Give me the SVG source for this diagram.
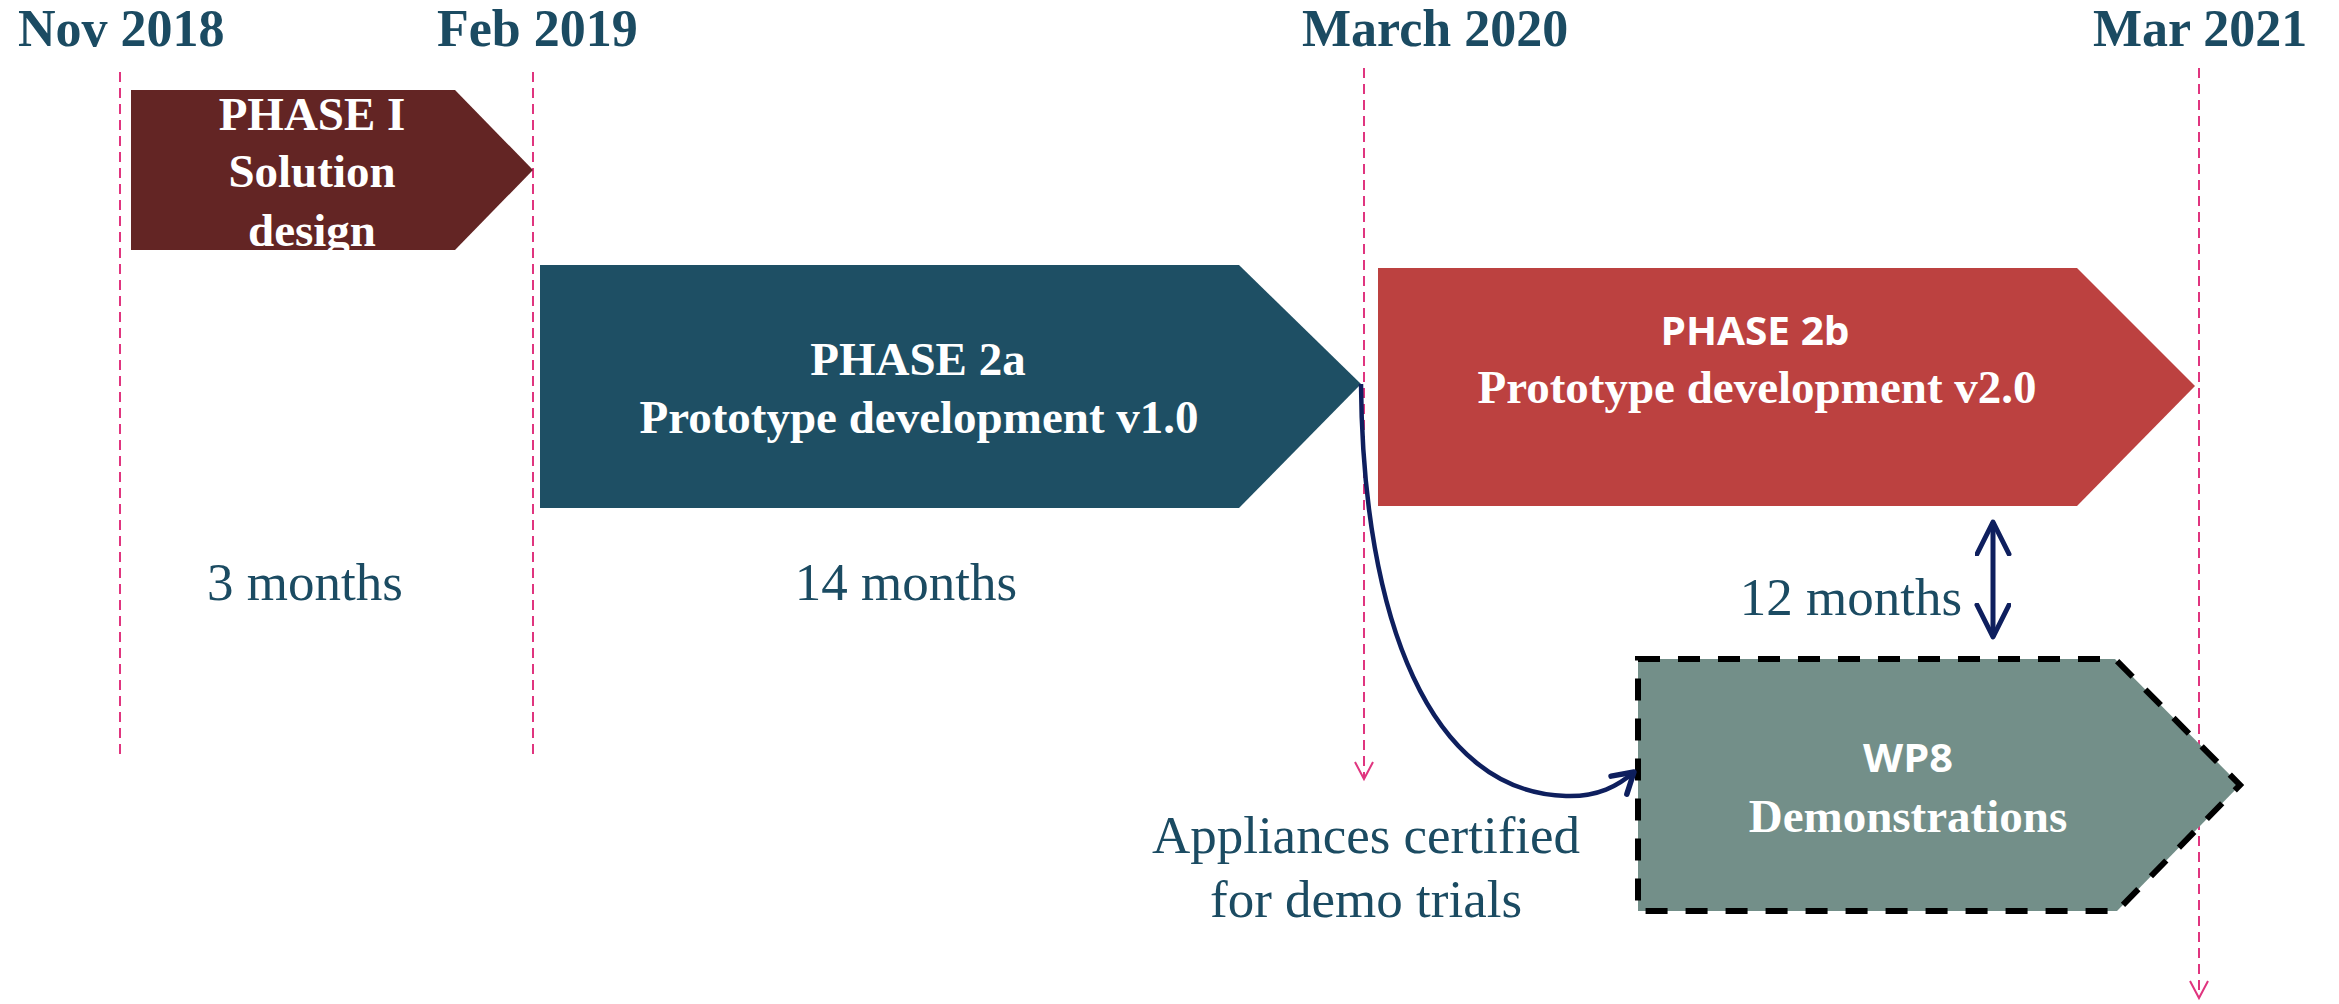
<svg xmlns="http://www.w3.org/2000/svg" width="2339" height="1004" viewBox="0 0 2339 1004">
<style>
.date{font-family:"Liberation Serif",serif;font-weight:bold;font-size:52px;fill:#1b4b62}
.lbl{font-family:"Liberation Serif",serif;font-size:53px;fill:#1b4b62}
.wt{font-family:"Liberation Serif",serif;font-weight:bold;font-size:47px;fill:#ffffff;text-anchor:middle}
.ws{font-family:"Open Sans","Liberation Sans",sans-serif;font-weight:bold;font-size:40px;fill:#ffffff;text-anchor:middle}
.vl{stroke:#e0357f;stroke-width:2;stroke-dasharray:10 6;fill:none}
</style>
<defs>
<marker id="pinkhead" markerWidth="22" markerHeight="22" refX="18" refY="10" orient="auto" markerUnits="userSpaceOnUse">
<path d="M1,1 L18,10 L1,19" fill="none" stroke="#e0357f" stroke-width="2"/>
</marker>
<marker id="navyhead" markerWidth="30" markerHeight="30" refX="24" refY="15" orient="auto" markerUnits="userSpaceOnUse">
<path d="M4,3 L24,15 L4,27" fill="none" stroke="#0e1f5e" stroke-width="5.5" stroke-linecap="round" stroke-linejoin="round"/>
</marker>
<marker id="navyhead2" markerWidth="40" markerHeight="40" refX="34" refY="18" orient="auto-start-reverse" markerUnits="userSpaceOnUse">
<path d="M2,2 L34,18 L2,34" fill="none" stroke="#0e1f5e" stroke-width="5" stroke-linecap="round" stroke-linejoin="round"/>
</marker>
<clipPath id="clipP1"><polygon points="131,90 455,90 533,170 455,250 131,250"/></clipPath>
</defs>

<g id="dates">
<text class="date" x="18" y="46">Nov 2018</text>
<text class="date" x="437" y="46">Feb 2019</text>
<text class="date" x="1302" y="46">March 2020</text>
<text class="date" x="2093" y="46">Mar 2021</text>
</g>

<g id="gridlines">
<line class="vl" x1="120" y1="72" x2="120" y2="758"/>
<line class="vl" x1="533" y1="72" x2="533" y2="758"/>
<line class="vl" x1="1364" y1="68" x2="1364" y2="779" marker-end="url(#pinkhead)"/>
<line class="vl" x1="2199" y1="68" x2="2199" y2="998" marker-end="url(#pinkhead)"/>
</g>

<g id="phase1">
<polygon points="131,90 455,90 533,170 455,250 131,250" fill="#632524"/>
<g clip-path="url(#clipP1)">
<text class="wt" x="312" y="130">PHASE I</text>
<text class="wt" x="312" y="187">Solution</text>
<text class="wt" x="312" y="246">design</text>
</g>
</g>

<g id="phase2a">
<polygon points="540,265 1239,265 1361,384 1239,508 540,508" fill="#1e4f64"/>
<text class="wt" x="918" y="375">PHASE 2a</text>
<text class="wt" x="919" y="433">Prototype development v1.0</text>
</g>

<g id="phase2b">
<polygon points="1378,268 2077,268 2195,386 2077,506 1378,506" fill="#bc4140"/>
<text class="ws" x="1755" y="345" textLength="189" lengthAdjust="spacingAndGlyphs">PHASE 2b</text>
<text class="wt" x="1757" y="403">Prototype development v2.0</text>
</g>

<g id="wp8">
<polygon points="1638,659 2115,659 2240,785 2117,911 1638,911" fill="#738f89" stroke="#000" stroke-width="6" stroke-dasharray="22 18"/>
<text class="ws" x="1908" y="772" textLength="90" lengthAdjust="spacingAndGlyphs">WP8</text>
<text class="wt" x="1908" y="832">Demonstrations</text>
</g>

<g id="labels">
<text class="lbl" x="305" y="600" text-anchor="middle">3 months</text>
<text class="lbl" x="906" y="600" text-anchor="middle">14 months</text>
<text class="lbl" x="1851" y="615" text-anchor="middle">12 months</text>
<text class="lbl" x="1366" y="853" text-anchor="middle">Appliances certified</text>
<text class="lbl" x="1366" y="917" text-anchor="middle">for demo trials</text>
</g>

<g id="connectors">
<path d="M1361,384 C1363,620 1430,792 1566,796 C1598,797 1618,786 1634,772" fill="none" stroke="#0e1f5e" stroke-width="4.5" marker-end="url(#navyhead)"/>
<line x1="1993" y1="522" x2="1993" y2="637" stroke="#0e1f5e" stroke-width="5" marker-start="url(#navyhead2)" marker-end="url(#navyhead2)"/>
</g>
</svg>
